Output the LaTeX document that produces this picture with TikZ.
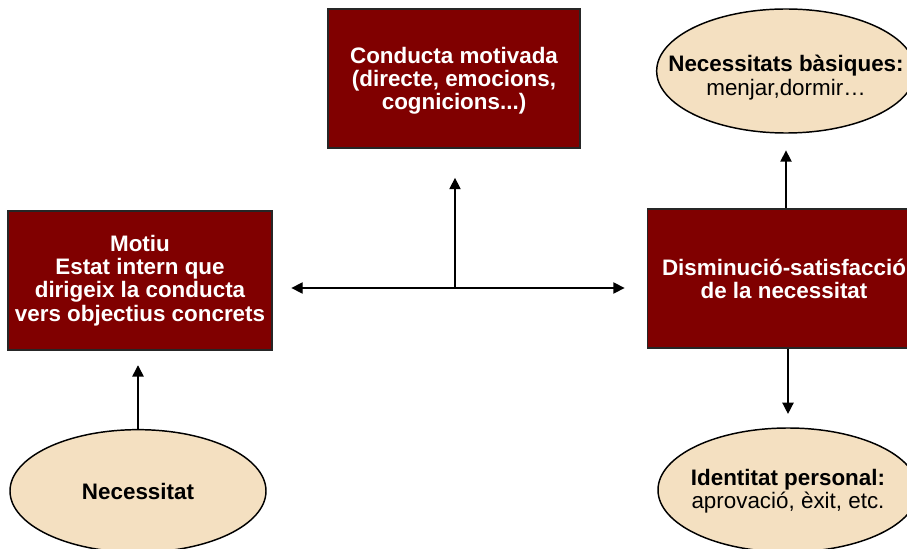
\documentclass[tikz,border=0pt]{standalone}
\usepackage{fontspec}
\setmainfont{Liberation Sans}
\usetikzlibrary{shapes.geometric,arrows.meta}

\begin{document}
\begin{tikzpicture}[x=0.75pt, y=-0.75pt, line width=1.1pt,
  box/.style={draw=black!85, fill=red!50!black, text=white, font=\bfseries\fontsize{16.8}{17.4}\selectfont,
    align=center, minimum height=104pt, inner sep=0pt},
  oval/.style={ellipse, draw=black, fill=wheatish, inner sep=0pt},
  ovaltext/.style={font=\fontsize{16.8}{17.4}\selectfont, align=center, inner sep=0pt},
  arr/.style={-{Triangle[length=8.5pt,width=8.5pt]}}]
\definecolor{wheatish}{RGB}{244,224,193}
\clip (0, 0) rectangle (907, 549);
\fill[white] (0, 0) rectangle (907, 549);
%Boxes
\node[box, minimum width=189pt, text depth=-5pt] (con) at (454, 78.5) {Conducta motivada\\(directe, emocions,\\cognicions...)};
\node[box, minimum width=198pt] (mot) at (140, 280.5) {Motiu\\Estat intern que\\dirigeix la conducta\\vers objectius concrets};
\node[box, minimum width=205pt] (dis) at (784, 278.5) {Disminució-satisfacció\\de la necessitat};
%Ovals
\node[oval, minimum width=192pt, minimum height=92pt] (nec) at (138, 491) {};
\node[oval, minimum width=194pt, minimum height=93pt] (bas) at (786, 71) {};
\node[oval, minimum width=195pt, minimum height=93pt] (ide) at (788, 490) {};
\node[ovaltext] (nectxt) at (nec) {\textbf{Necessitat}};
\node[ovaltext] (bastxt) at ([yshift=-5pt]bas.center) {\textbf{Necessitats bàsiques:}\\menjar,dormir…};
\node[ovaltext] (idetxt) at ([yshift=-1pt]ide.center) {\textbf{Identitat personal:}\\aprovació, èxit, etc.};
%Arrows
\coordinate (hub) at (455, 288);
\draw[arr, shorten >=11pt] (nec.north) -- (nec.north |- mot.south);
\draw[arr, shorten >=14pt] (hub) -- (mot.east |- hub);
\draw[arr, shorten >=16.5pt] (hub) -- (dis.west |- hub);
\draw[arr, shorten >=22pt] (hub) -- (hub |- con.south);
\draw[arr, shorten >=12.5pt] (dis.north -| bas.south) -- (bas.south);
\draw[arr, shorten >=10pt] (dis.south -| ide.north) -- (ide.north);
\end{tikzpicture}
\end{document}
